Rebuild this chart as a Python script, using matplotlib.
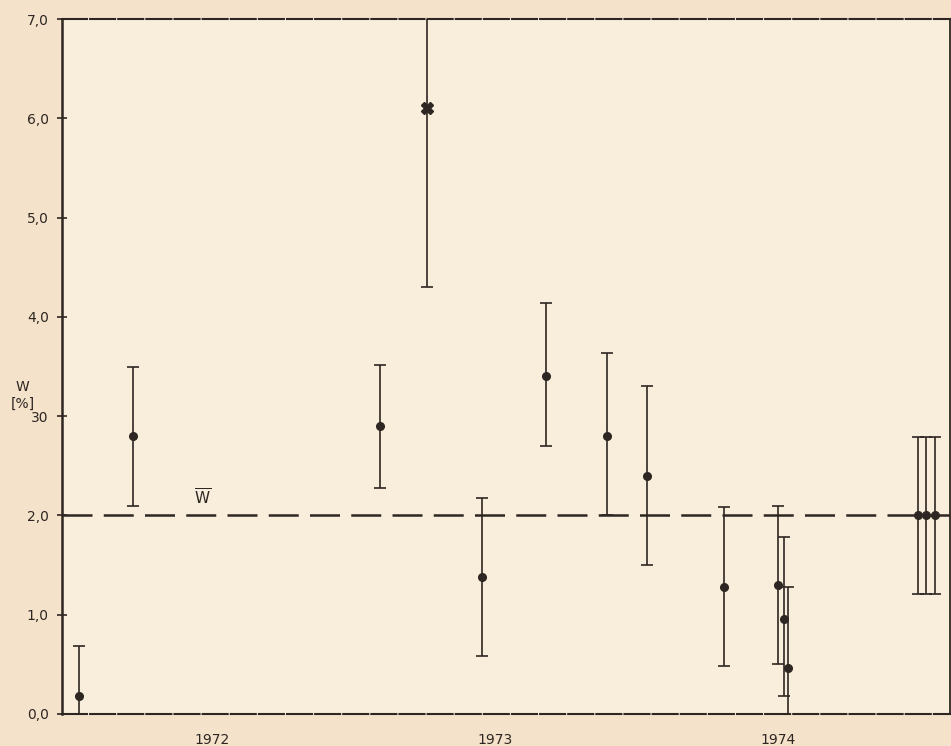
import matplotlib
matplotlib.use("Agg")
import matplotlib.pyplot as plt

# ---- data (decimal years, W in %) ----
t = [1972.03, 1972.22, 1973.094, 1973.26, 1973.454, 1973.68, 1973.896, 1974.037,
     1974.309, 1974.50, 1974.521, 1974.535, 1974.995, 1975.023, 1975.055]
w = [0.18, 2.80, 2.90, 6.10, 1.38, 3.40, 2.80, 2.40,
     1.28, 1.30, 0.96, 0.46, 2.00, 2.00, 2.00]
err_lo = [0.50, 0.70, 0.62, 1.80, 0.80, 0.70, 0.80, 0.90,
          0.80, 0.80, 0.78, 0.80, 0.79, 0.79, 0.79]
err_hi = [0.50, 0.70, 0.62, 1.80, 0.80, 0.74, 0.84, 0.90,
          0.80, 0.79, 0.82, 0.82, 0.79, 0.79, 0.79]
outlier = [False, False, False, True, False, False, False, False,
           False, False, False, False, False, False, False]
w_mean = 2.0
year_labels = ["1972", "1973", "1974"]
year_pos = [1972.5, 1973.5, 1974.5]
ytick_vals = [0, 1, 2, 3, 4, 5, 6, 7]
ytick_labels = ["0,0", "1,0", "2,0", "30", "4,0", "5,0", "6,0", "7,0"]

ink = "#2e2622"
fig = plt.figure(figsize=(9.51, 7.46), dpi=100, facecolor="#f4e3ca")
ax = fig.add_axes([0.0652, 0.0429, 0.9338, 0.9316], facecolor="#f8eedb")

ax.set_xlim(1971.97, 1975.108)
ax.set_ylim(0, 7.0)

# mean line
ax.axhline(w_mean, color=ink, lw=1.8, dashes=(12, 4.5), zorder=1)
ax.text(1972.468, 2.08, r"$\overline{\mathrm{W}}$", color=ink, fontsize=11,
        ha="center", va="bottom")

for xi, yi, lo, hi, out in zip(t, w, err_lo, err_hi, outlier):
    ax.errorbar([xi], [yi], yerr=[[lo], [hi]], fmt="none", ecolor=ink,
                elinewidth=1.2, capsize=4, capthick=1.2, zorder=2)
    if out:
        ax.plot([xi], [yi], marker="X", ms=8, color=ink, mec=ink, ls="none", zorder=3)
    else:
        ax.plot([xi], [yi], marker="o", ms=5.5, color=ink, ls="none", zorder=3)

ax.set_yticks(ytick_vals)
ax.set_yticklabels(ytick_labels, fontsize=10, color=ink)
ax.tick_params(axis="y", direction="inout", length=7, width=1.2, color=ink, pad=6)
ax.set_xticks(year_pos)
ax.set_xticklabels(year_labels, fontsize=10, color=ink)
ax.tick_params(axis="x", length=0, pad=14)

for s in ["left", "right"]:
    ax.spines[s].set_color(ink)
ax.spines["left"].set_linewidth(1.8)
ax.spines["right"].set_linewidth(1.3)
for s in ["top", "bottom"]:
    ax.spines[s].set_color(ink)
    ax.spines[s].set_linewidth(1.5)
    ax.spines[s].set_linestyle((0, (12, 1.5)))

fig.text(0.024, 0.470, "W\n[%]", fontsize=10, color=ink, ha="center",
         va="center", linespacing=1.3)

fig.savefig("out.png", dpi=100, facecolor=fig.get_facecolor())
